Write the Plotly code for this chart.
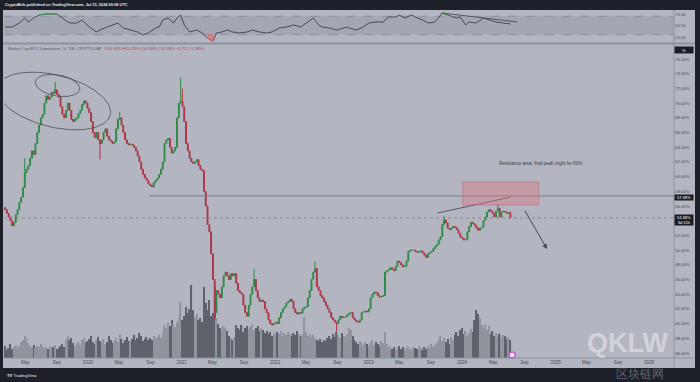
import numpy as np
import pandas as pd
import plotly.graph_objects as go

# ---------------- data ----------------
WEEK_START = "2019-02-11"
FIRST_OPEN = 55.8

closes = [
    55.5, 55.0, 54.5, 54.0, 53.3, 53.8, 54.8, 55.5, 56.5, 57.2,
    58.5, 60.5, 61.0, 61.5, 62.5, 63.5, 63.0, 64.5, 66.0, 67.0,
    68.0, 68.5, 70.0, 71.0, 70.5, 70.8, 71.5, 71.3, 71.8, 71.2,
    70.8, 69.5, 68.5, 68.0, 69.0, 70.0, 69.0, 67.8, 67.5, 67.8,
    68.0, 68.6, 69.0, 69.8, 70.3, 70.0, 69.3, 68.7, 67.5, 66.0,
    65.3, 66.0, 65.0, 64.5, 65.0, 66.0, 66.5, 65.5, 65.0, 64.8,
    64.5, 64.7, 66.5, 67.8, 68.0, 67.0, 66.0, 65.0, 64.5, 64.3,
    64.4, 64.3, 64.0, 63.5, 62.8, 62.0, 61.0, 60.3, 59.8, 59.5,
    59.0, 58.8, 58.6, 59.2, 59.5, 59.8, 60.3, 61.0, 62.0, 64.5,
    65.0, 65.2, 64.0, 63.2, 63.5, 64.0, 68.0, 70.0, 70.3, 69.5,
    67.5, 64.5, 63.5, 62.5, 62.0, 61.8, 62.0, 62.3, 61.5, 61.0,
    60.8, 58.0, 56.0, 53.5, 52.5, 49.5, 46.0, 41.5, 44.5, 44.0,
    43.5, 45.0, 46.5, 47.0, 46.5, 46.0, 46.8, 46.5, 46.8, 45.5,
    44.5, 44.2, 44.0, 42.5, 41.5, 41.0, 42.5, 44.0, 45.0, 46.0,
    44.5, 43.5, 43.0, 43.2, 43.0, 42.0, 41.5, 40.5, 40.0, 39.8,
    40.0, 40.2, 40.0, 40.8, 41.5, 42.0, 42.3, 42.8, 43.0, 43.3,
    43.0, 42.0, 41.5, 41.3, 41.5, 41.4, 42.0, 42.2, 42.3, 43.5,
    44.5, 46.0, 47.0, 47.5, 45.0, 44.5, 43.8, 43.5, 43.0, 42.5,
    42.0, 41.5, 40.8, 40.5, 40.2, 40.0, 40.5, 41.0, 40.8, 40.9,
    40.9, 41.2, 41.4, 41.5, 40.8, 40.5, 40.3, 40.2, 40.5, 41.5,
    41.6, 41.7, 41.6, 42.0, 43.5, 44.0, 44.3, 44.2, 43.8, 43.6,
    43.7, 43.8, 47.0, 47.2, 47.3, 47.6, 47.4, 47.2, 47.8, 48.5,
    48.3, 48.0, 47.7, 47.8, 48.5, 49.8, 50.0, 50.0, 50.0, 49.8,
    49.7, 49.8, 49.9, 49.6, 49.3, 49.0, 49.5, 49.7, 49.8, 50.2,
    50.5, 50.8, 51.4, 51.8, 53.5, 54.1, 53.7, 53.0, 52.8, 53.0,
    53.2, 53.1, 52.8, 52.3, 51.8, 51.6, 51.4, 51.4, 52.5, 53.2,
    53.8, 53.6, 53.4, 53.0, 52.7, 53.0, 53.1, 54.0, 54.5, 55.2,
    55.5, 55.3, 55.0, 54.5, 55.3, 55.7, 54.5, 55.2, 55.3, 55.2,
    55.0, 55.09, 54.38,
]

volumes = [
    12, 8, 10, 14, 9, 11, 13, 10, 12, 16,
    18, 22, 20, 15, 12, 11, 13, 10, 12, 11,
    14, 12, 10, 11, 9, 12, 10, 11, 13, 9,
    10, 12, 14, 11, 19, 22, 18, 20, 15, 12,
    14, 16, 13, 18, 20, 15, 17, 19, 22, 16,
    14, 18, 21, 17, 15, 19, 14, 16, 22, 18,
    15, 17, 20, 16, 24, 19, 15, 18, 21, 17,
    16, 19, 23, 18, 20, 25, 22, 17, 19, 21,
    18, 20, 18, 22, 19, 21, 23, 20, 25, 33,
    30, 35, 32, 38, 34, 31, 36, 40, 56, 38,
    42, 51, 45, 49, 73, 48, 41, 44, 38, 40,
    36, 71, 55, 48, 58, 42, 45, 71, 40, 34,
    30, 28, 32, 30, 27, 22, 20, 18, 21, 33,
    30, 28, 33, 26, 30, 32, 29, 31, 34, 28,
    30, 32, 27, 30, 28, 25, 27, 24, 26, 22,
    25, 23, 26, 24, 27, 22, 25, 23, 26, 24,
    22, 25, 23, 27, 24, 22, 23, 41, 26, 22,
    24, 21, 23, 20, 18, 17, 19, 16, 18, 17,
    20, 22, 19, 24, 21, 26, 23, 20, 25, 22,
    21, 24, 30, 28, 22, 18, 16, 14, 17, 15,
    13, 16, 14, 12, 15, 18, 13, 16, 14, 12,
    17, 15, 26, 14, 10, 12, 9, 11, 8, 10,
    12, 9, 11, 8, 10, 12, 9, 8, 11, 10,
    9, 12, 10, 8, 11, 9, 12, 10, 14, 11,
    13, 15, 18, 22, 17, 20, 16, 19, 14, 21,
    18, 23, 26, 22, 28, 30, 24, 27, 22, 25,
    29, 26, 38, 48, 44, 40, 33, 30, 33, 28,
    32, 24, 27, 22, 25, 21, 24, 20, 23, 22,
    19, 21, 18,
]

wick_highs = {11: 62.5, 28: 72.9, 64: 68.8, 98: 73.5, 99: 72.0, 139: 47.5,
              173: 48.5, 245: 54.6, 275: 56.3, 282: 55.26}
wick_lows = {53: 62.3, 117: 40.5, 185: 38.9, 282: 54.30}

rsi_idx = [0, 4, 8, 11, 13, 16, 19, 23, 29, 32, 35, 37, 40, 43, 47, 51, 53, 57,
           60, 63, 66, 70, 74, 77, 80, 84, 86, 88, 91, 94, 96, 98, 100, 103,
           107, 110, 113, 116, 118, 121, 124, 127, 131, 135, 138, 142, 146,
           149, 153, 157, 161, 165, 168, 172, 175, 177, 181, 185, 189, 191,
           192, 196, 200, 203, 207, 211, 214, 218, 220, 223, 227, 230, 233,
           236, 240, 244, 247, 250, 252, 254, 257, 259, 263, 267, 270, 274,
           278, 282]
rsi_val = [46.7, 46.7, 55.4, 66.3, 57.6, 66.3, 72.8, 75.0, 75.0, 66.3, 57.6,
           55.4, 55.4, 62.0, 46.7, 35.9, 40.2, 46.7, 51.1, 55.4, 44.6, 40.2,
           35.9, 29.3, 33.7, 44.6, 46.7, 62.0, 66.3, 55.4, 66.3, 72.8, 51.1,
           35.9, 40.2, 33.7, 22.8, 16.0, 33.7, 35.9, 40.2, 35.9, 33.7, 35.9,
           40.2, 35.9, 33.7, 35.9, 44.6, 46.7, 51.1, 46.7, 55.4, 66.3, 51.1,
           46.7, 44.6, 40.2, 44.6, 46.7, 44.6, 40.2, 46.7, 55.4, 57.6, 57.6,
           68.5, 68.5, 72.8, 66.3, 72.8, 66.3, 62.0, 55.4, 57.6, 77.2, 72.8,
           68.5, 66.3, 68.5, 51.1, 57.6, 55.4, 66.3, 62.0, 57.6, 55.4, 53.3]

x_tick_dates = ["2019-05-01", "2019-09-01", "2020-01-01", "2020-05-01", "2020-09-01",
                "2021-01-01", "2021-05-01", "2021-09-01", "2022-01-01", "2022-05-01",
                "2022-09-01", "2023-01-01", "2023-05-01", "2023-09-01", "2024-01-01",
                "2024-05-01", "2024-09-01", "2025-01-01", "2025-05-01", "2025-09-01",
                "2026-01-01"]
x_tick_text = ["May", "Sep", "2020", "May", "Sep", "2021", "May", "Sep", "2022", "May",
               "Sep", "2023", "May", "Sep", "2024", "May", "Sep", "2025", "May", "Sep",
               "2026"]
# 54.00% is hidden behind the last-price badge in the reference
price_ticks = [36, 38, 40, 42, 44, 46, 48, 50, 52, 56, 58, 60, 62, 64, 66, 68, 70, 72, 74, 76]
rsi_ticks = [25, 50, 75]

# drawings (data coordinates)
LEVEL = 57.38
LEVEL_START = "2020-08-27"
LAST = 54.38
ZONE = dict(x0="2024-01-04", x1="2024-10-27", y0=56.14, y1=59.27)
TREND = dict(x0="2023-09-28", y0=55.05, x1="2024-07-10", y1=57.22)
ARROW = dict(x0="2024-08-30", y0=55.59, x1="2024-11-28", y1=50.15)
NOTE = dict(x="2024-11-04", y=61.85, text="Resistance area, final peak might be 60%.")
RSI_TREND = dict(x0="2023-10-14", y0=77.2, x1="2024-08-04", y1=57.6)
EVENT_DATE = "2024-07-15"

# ---------------- geometry / style ----------------
W, H = 700, 382
PL, PR, PT, PB = 4, 674, 10, 358
MAIN_TOP = 45
RSI_BOT = 42
X0, X1 = pd.Timestamp("2019-02-07"), pd.Timestamp("2026-04-08")
Y0, Y1 = 35.32, 77.905
R0, R1 = 14.1, 83.7

DARK = "#1d2029"
LIGHT = "#b3b6c0"
TXT = "#474a52"
GREEN = "#2f8a47"
RED = "#ad3548"
FONT = "Liberation Sans, Arial, sans-serif"

assert len(volumes) == len(closes), (len(volumes), len(closes))
assert len(rsi_idx) == len(rsi_val), (len(rsi_idx), len(rsi_val))

n = len(closes)
dates = pd.date_range(WEEK_START, periods=n, freq="7D")
opens = [FIRST_OPEN] + closes[:-1]
highs = [max(o, c) for o, c in zip(opens, closes)]
lows = [min(o, c) for o, c in zip(opens, closes)]
for k, v in wick_highs.items():
    highs[k] = v
for k, v in wick_lows.items():
    lows[k] = v


def px2paper(x, y):
    return (x - PL) / (PR - PL), (PB - y) / (PB - PT)


def px2data(px, py):
    xs = [X0 + (p - PL) / (PR - PL) * (X1 - X0) for p in px]
    ys = [Y0 + (PB - q) / (PB - MAIN_TOP) * (Y1 - Y0) for q in py]
    return xs, ys


fig = go.Figure()

# volume (base axis y, hidden)
vol_colors = ["#91949d" if c >= o else "#5f626a" for o, c in zip(opens, closes)]
fig.add_trace(go.Bar(x=dates, y=volumes, marker=dict(color=vol_colors, line=dict(width=0)),
                     yaxis="y", xaxis="x", hoverinfo="skip"))

# candles
fig.add_trace(go.Candlestick(
    x=dates, open=opens, high=highs, low=lows, close=closes,
    increasing=dict(line=dict(color=GREEN, width=1), fillcolor=GREEN),
    decreasing=dict(line=dict(color=RED, width=1), fillcolor=RED),
    whiskerwidth=0, yaxis="y3", xaxis="x", hoverinfo="skip"))

# trend line in main pane
fig.add_trace(go.Scatter(x=[TREND["x0"], TREND["x1"]], y=[TREND["y0"], TREND["y1"]],
                         mode="lines", line=dict(color="#4a4d55", width=0.9),
                         yaxis="y3", hoverinfo="skip"))

# ellipses drawn on the 2019 top (pixel geometry -> data)
for cx, cy, a, b, ang in [(57.5, 85.5, 22.5, 10.5, 10), (54, 101, 58, 26, 14)]:
    t = np.linspace(0, 2 * np.pi, 120)
    r = np.radians(ang)
    px = cx + a * np.cos(t) * np.cos(r) - b * np.sin(t) * np.sin(r)
    py = cy + a * np.cos(t) * np.sin(r) + b * np.sin(t) * np.cos(r)
    ex, ey = px2data(px, py)
    fig.add_trace(go.Scatter(x=ex, y=ey, mode="lines", line=dict(color="#4a4d55", width=0.8),
                             yaxis="y3", hoverinfo="skip"))

# RSI
rsi_x = [dates[i] for i in rsi_idx]
fig.add_trace(go.Scatter(x=rsi_x, y=rsi_val, mode="lines", line=dict(color="#3d4048", width=0.9),
                         yaxis="y2", hoverinfo="skip"))


def runs(cond):
    out, cur = [], []
    for j, ok in enumerate(cond):
        if ok:
            cur.append(j)
        else:
            if len(cur) >= 2:
                out.append(cur)
            cur = []
    if len(cur) >= 2:
        out.append(cur)
    return out


for rr in runs([v > 70 for v in rsi_val]):
    fig.add_trace(go.Scatter(x=[rsi_x[j] for j in rr], y=[rsi_val[j] for j in rr], mode="lines",
                             line=dict(color="#3c9a4e", width=1.1), yaxis="y2", hoverinfo="skip"))
for rr in runs([v < 30 for v in rsi_val]):
    xs = [rsi_x[j] for j in rr]
    ys = [rsi_val[j] for j in rr]
    fig.add_trace(go.Scatter(x=xs + xs[::-1], y=ys + [30] * len(xs), mode="lines", fill="toself",
                             fillcolor="rgba(225,110,115,0.65)", line=dict(color="#d46a70", width=0.9),
                             yaxis="y2", hoverinfo="skip"))
fig.add_trace(go.Scatter(x=[RSI_TREND["x0"], RSI_TREND["x1"]], y=[RSI_TREND["y0"], RSI_TREND["y1"]],
                         mode="lines", line=dict(color="#3d4048", width=0.8), yaxis="y2",
                         hoverinfo="skip"))

# event icon
fig.add_trace(go.Scatter(x=[EVENT_DATE], y=[3], mode="markers", yaxis="y",
                         marker=dict(size=6, color="#f3e6f5", line=dict(color="#c55fd0", width=1.5)),
                         cliponaxis=False, hoverinfo="skip"))

shapes = []
# light chart frame
fx0, fy0 = px2paper(3, 368)
fx1, fy1 = px2paper(695, 10)
shapes.append(dict(type="rect", xref="paper", yref="paper", x0=fx0, x1=fx1, y0=fy0, y1=fy1,
                   fillcolor=LIGHT, line=dict(width=0), layer="below"))
# RSI band
shapes.append(dict(type="rect", xref="paper", yref="y2", x0=0, x1=1, y0=30, y1=70,
                   fillcolor="rgba(110,115,130,0.22)", line=dict(width=0), layer="below"))
for lv in (30, 70):
    shapes.append(dict(type="line", xref="paper", yref="y2", x0=0, x1=1, y0=lv, y1=lv,
                       line=dict(color="#868993", width=0.8, dash="dash"), layer="below"))
# pane separator
sx0, sy0 = px2paper(3, 44.5)
sx1, sy1 = px2paper(695, 42.5)
shapes.append(dict(type="rect", xref="paper", yref="paper", x0=sx0, x1=sx1, y0=sy0, y1=sy1,
                   fillcolor="#8f929b", line=dict(width=0)))
# price axis border and time axis border
ax_x, ay_top = px2paper(674, 10)
_, ay_bot = px2paper(674, 368)
shapes.append(dict(type="line", xref="paper", yref="paper", x0=ax_x, x1=ax_x, y0=ay_bot, y1=ay_top,
                   line=dict(color="#8e919a", width=1)))
bx0, by = px2paper(3, 358)
bx1, _ = px2paper(695, 358)
shapes.append(dict(type="line", xref="paper", yref="paper", x0=bx0, x1=bx1, y0=by, y1=by,
                   line=dict(color="#8e919a", width=1)))
# last price dotted line
shapes.append(dict(type="line", xref="paper", yref="y3", x0=0, x1=1, y0=LAST, y1=LAST,
                   line=dict(color="#7b7e87", width=0.8, dash="dot")))
# horizontal level
shapes.append(dict(type="line", xref="x", yref="y3", x0=LEVEL_START, x1=X1, y0=LEVEL, y1=LEVEL,
                   line=dict(color="#7a7d86", width=1)))
# resistance zone
shapes.append(dict(type="rect", xref="x", yref="y3", **ZONE,
                   fillcolor="rgba(220,120,130,0.42)", line=dict(color="rgba(190,100,115,0.7)", width=0.8)))

annotations = []


def ann_px(x, y, text, size, color, xanchor="left", **kw):
    px_, py_ = px2paper(x, y)
    annotations.append(dict(xref="paper", yref="paper", x=px_, y=py_, text=text, showarrow=False,
                            xanchor=xanchor, yanchor="middle",
                            font=dict(size=size, color=color, family=FONT), **kw))


ann_px(3, 5, "<b>CryptoBirb published on TradingView.com, Jul 15, 2024 09:08 UTC</b>", 3.9, "#e8e9ee")
ann_px(6, 48.5, "Market Cap BTC Dominance, %, 1W, CRYPTOCAP&nbsp;&nbsp;"
       "<span style='color:#b23a4c'>O55.09% H55.26% L54.30% C54.38% −0.71 (−1.28%)</span>",
       4.1, "#555860")
ann_px(5, 375, "<b>TV</b> TradingView", 4.2, "#e8e9ee")
# axis badges
for yy, txt, h in [(49.5, "%", 6), (197, "57.38%", 5), (219.5, "54.38%<br>3d 15h", 10)]:
    ann_px(684, yy, txt, 4, "#ffffff", xanchor="center", bgcolor="#1b1d24", width=18, height=h,
           borderpad=0)
# watermark (kept inside the plot so it does not cover the axis labels)
ann_px(628, 343, "<b>QKLW</b>", 27, "rgba(255,255,255,0.42)", xanchor="center")
ann_px(640, 374, "区块链网", 12, "rgba(255,255,255,0.32)", xanchor="center")

# note text
annotations.append(dict(x=NOTE["x"], y=NOTE["y"], xref="x", yref="y3", text=NOTE["text"],
                        showarrow=False, font=dict(size=4.5, color="#3a3d45", family=FONT)))
# arrow
annotations.append(dict(x=ARROW["x1"], y=ARROW["y1"], ax=ARROW["x0"], ay=ARROW["y0"],
                        xref="x", yref="y3", axref="x", ayref="y3", text="", showarrow=True,
                        arrowhead=2, arrowsize=1, arrowwidth=1, arrowcolor="#45484f"))

axis_font = dict(size=4.3, color=TXT, family=FONT)
fig.update_layout(
    width=W, height=H,
    margin=dict(l=PL, r=W - PR, t=PT, b=H - PB),
    paper_bgcolor=DARK, plot_bgcolor=LIGHT,
    showlegend=False, bargap=0.25,
    xaxis=dict(type="date", range=[X0, X1], tickvals=x_tick_dates, ticktext=x_tick_text,
               showgrid=False, zeroline=False, showline=False, ticks="", tickfont=dict(size=4.6, color=TXT, family=FONT),
               rangeslider=dict(visible=False), anchor="y", fixedrange=True),
    yaxis=dict(domain=[0, (PB - MAIN_TOP) / (PB - PT)], range=[0, PB - MAIN_TOP], visible=False,
               showgrid=False, zeroline=False, fixedrange=True),
    yaxis3=dict(overlaying="y", side="right", anchor="x", range=[Y0, Y1], tickvals=price_ticks,
                ticktext=[f"{v:.2f}%" for v in price_ticks], showgrid=False, zeroline=False,
                ticks="", tickfont=axis_font, fixedrange=True),
    yaxis2=dict(domain=[(PB - RSI_BOT) / (PB - PT), 1], range=[R0, R1], side="right", anchor="x",
                tickvals=rsi_ticks, ticktext=[f"{v:.2f}" for v in rsi_ticks], showgrid=False,
                zeroline=False, ticks="", tickfont=axis_font, fixedrange=True),
    shapes=shapes, annotations=annotations,
)

fig.write_html("out.html", include_plotlyjs=True, config={"displayModeBar": False})
